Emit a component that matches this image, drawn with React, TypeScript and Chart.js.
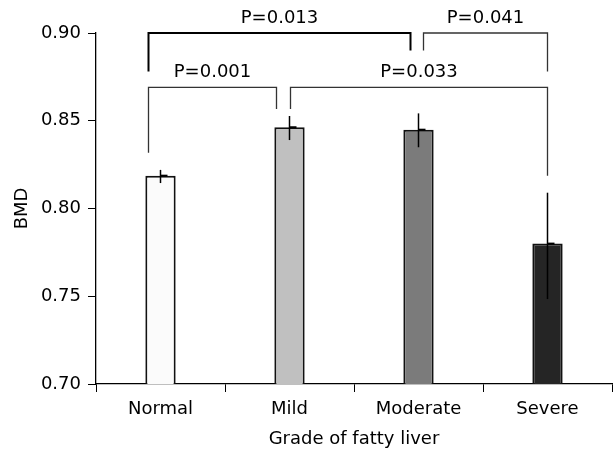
import React, { useEffect, useRef } from "react";
import { Chart, registerables } from "chart.js";

Chart.register(...registerables);

const categories = ["Normal", "Mild", "Moderate", "Severe"];
const bmdMeans = [0.8187, 0.8463, 0.8449, 0.78];
const errLow = [0.8145, 0.839, 0.8349, 0.7484];
const errHigh = [0.822, 0.8527, 0.8542, 0.809];
const barColors = ["#fbfbfb", "#c0c0c0", "#7b7b7b", "#252525"];
const yTicks = [0.7, 0.75, 0.8, 0.85, 0.9];

// brackets: from category, to category, bar height, left leg end, right leg end, label
const bracketFrom = [0, 0, 1, 2];
const bracketTo = [2, 1, 3, 3];
const bracketY = [0.9, 0.869, 0.869, 0.9];
const bracketLeftEnd = [0.878, 0.8318, 0.8567, 0.89];
const bracketRightEnd = [0.89, 0.8567, 0.8187, 0.878];
const bracketLabels = ["P=0.013", "P=0.001", "P=0.033", "P=0.041"];

const FONT = "'DejaVu Sans', 'Liberation Sans', Arial, sans-serif";
const FS = 18;

export default function App() {
  const ref = useRef<HTMLCanvasElement | null>(null);

  useEffect(() => {
    if (!ref.current) return;
    // pixel offsets of bracket legs relative to the category centre (style)
    const leftOff = [-12, -12, 1, 5];
    const rightOff = [-8, -13, 0, 0];
    const widths = [2, 1.3, 1.3, 1.3];
    const colors = ["#000", "#333", "#333", "#333"];

    const overlay = {
      id: "overlay",
      afterDatasetsDraw(chart: any) {
        const { ctx, scales } = chart;
        const xs = scales.x;
        const ys = scales.y;
        ctx.save();
        // error bars
        for (let i = 0; i < categories.length; i++) {
          const cx = xs.getPixelForValue(i);
          ctx.strokeStyle = "#000";
          ctx.lineWidth = 1.5;
          ctx.beginPath();
          ctx.moveTo(cx, ys.getPixelForValue(errHigh[i]));
          ctx.lineTo(cx, ys.getPixelForValue(errLow[i]));
          ctx.stroke();
          ctx.lineWidth = 2;
          ctx.beginPath();
          const my = ys.getPixelForValue(bmdMeans[i]);
          ctx.moveTo(cx, my);
          ctx.lineTo(cx + 7, my);
          ctx.stroke();
        }
        // brackets
        ctx.font = `${FS}px ${FONT}`;
        ctx.textAlign = "center";
        ctx.textBaseline = "middle";
        for (let b = 0; b < bracketLabels.length; b++) {
          const x1 = xs.getPixelForValue(bracketFrom[b]) + leftOff[b];
          const x2 = xs.getPixelForValue(bracketTo[b]) + rightOff[b];
          const y = ys.getPixelForValue(bracketY[b]);
          ctx.strokeStyle = colors[b];
          ctx.lineWidth = widths[b];
          ctx.beginPath();
          ctx.moveTo(x1, ys.getPixelForValue(bracketLeftEnd[b]));
          ctx.lineTo(x1, y);
          ctx.lineTo(x2, y);
          ctx.lineTo(x2, ys.getPixelForValue(bracketRightEnd[b]));
          ctx.stroke();
          ctx.fillStyle = "#000";
          ctx.fillText(bracketLabels[b], (x1 + x2) / 2, y - 15);
        }
        ctx.restore();
      },
    };

    const chart = new Chart(ref.current, {
      type: "bar",
      data: {
        labels: categories,
        datasets: [
          {
            data: bmdMeans,
            backgroundColor: barColors,
            borderColor: "#111",
            borderWidth: 2,
            barPercentage: 1,
            categoryPercentage: 0.235,
          },
        ],
      },
      options: {
        animation: false,
        responsive: true,
        maintainAspectRatio: false,
        layout: { padding: { top: 33, right: 3, left: 0, bottom: 0 } },
        plugins: { legend: { display: false }, tooltip: { enabled: false } },
        scales: {
          x: {
            afterFit: (s: any) => {
              s.height = 70;
            },
            grid: {
              drawOnChartArea: false,
              drawTicks: true,
              tickLength: 8,
              color: "#000",
              offset: true,
            },
            border: { display: true, color: "#000", width: 1.3 },
            ticks: { color: "#000", padding: 7, font: { family: FONT, size: FS } },
            title: {
              display: true,
              text: "Grade of fatty liver",
              color: "#000",
              font: { family: FONT, size: FS },
              padding: { top: 0, bottom: 3.5 },
            },
          },
          y: {
            min: 0.7,
            max: 0.9,
            afterFit: (s: any) => {
              s.width = 96;
            },
            afterBuildTicks: (s: any) => {
              s.ticks = yTicks.map((v) => ({ value: v }));
            },
            grid: {
              drawOnChartArea: false,
              drawTicks: true,
              tickLength: 8,
              color: "#000",
            },
            border: { display: true, color: "#000", width: 1.3 },
            ticks: {
              color: "#000",
              padding: 7,
              font: { family: FONT, size: FS },
              callback: (v: any) => Number(v).toFixed(2),
            },
            title: {
              display: true,
              text: "BMD",
              color: "#000",
              font: { family: FONT, size: FS },
              padding: { top: 12, bottom: 0 },
            },
          },
        },
      },
      plugins: [overlay],
    });
    return () => chart.destroy();
  }, []);

  return (
    <div style={{ position: "absolute", left: 0, top: 0, width: 615, height: 454, background: "#fff" }}>
      <canvas ref={ref} />
    </div>
  );
}
